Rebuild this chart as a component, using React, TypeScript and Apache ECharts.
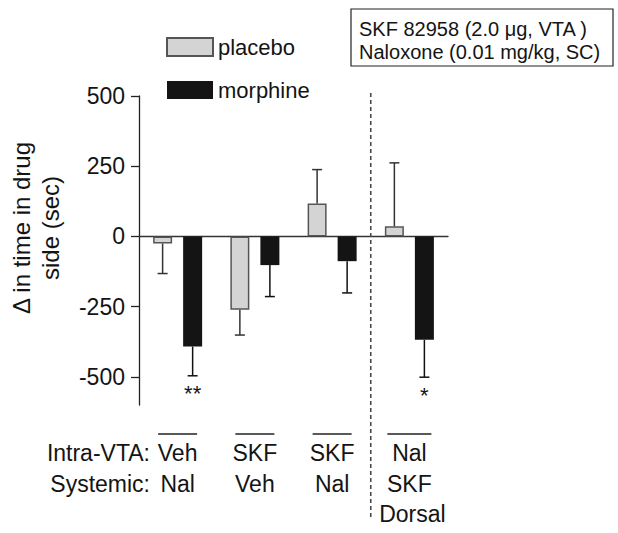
import React, { useEffect, useRef } from "react";
import * as echarts from "echarts";

const categories = ["Veh/Nal", "SKF/Veh", "SKF/Nal", "Nal/SKF/Dorsal"];
const groupLines = [["Veh", "Nal"], ["SKF", "Veh"], ["SKF", "Nal"], ["Nal", "SKF", "Dorsal"]];
const placeboMean = [-25, -261, 117, 36];
const placeboSem = [107, 90, 121, 226];
const morphineMean = [-392, -102, -88, -368];
const morphineSem = [104, 112, 113, 133];
const morphineSig = ["**", "", "", "*"];
const yTicks = [-500, -250, 0, 250, 500];
const rowLabels = ["Intra-VTA:", "Systemic:"];
const boxLines = ["SKF 82958 (2.0 μg, VTA )", "Naloxone (0.01 mg/kg, SC)"];
const yName = "Δ in time in drug\nside (sec)";

const Y_MIN = -600;
const Y_MAX = 500;
const BAR_WIDTH = 19;
const BAR_GAP = 0.58;
const FONT = '"Liberation Sans", Arial, Helvetica, sans-serif';
const INK = "#141414";

function errRender(sign: number, color: string, sig: string[] | null) {
  return (params: any, api: any) => {
    const i = api.value(0);
    const m = api.value(1);
    const s = api.value(2);
    const off = (BAR_WIDTH * (1 + BAR_GAP)) / 2;
    const base = api.coord([i, m]);
    const end = api.coord([i, m >= 0 ? m + s : m - s]);
    const x = base[0] + sign * off;
    const children: any[] = [
      { type: "line", shape: { x1: x, y1: base[1], x2: x, y2: end[1] }, style: { stroke: color, lineWidth: 1.5 } },
      { type: "line", shape: { x1: x - 5, y1: end[1], x2: x + 5, y2: end[1] }, style: { stroke: color, lineWidth: 1.5 } },
    ];
    if (sig && sig[i]) {
      children.push({
        type: "text",
        x: x,
        y: end[1] + 7,
        style: {
          text: sig[i], fill: INK, fontSize: 22, fontFamily: FONT,
          textAlign: "center", textVerticalAlign: "top", align: "center", verticalAlign: "top",
        },
      });
    }
    return { type: "group", children };
  };
}

function labelRender(params: any, api: any) {
  const k = api.value(0);
  const p = api.coord([k, Y_MIN]);
  const cx = p[0];
  const by = p[1];
  const band = api.size([1, 0])[0];
  const ow = k === 3 ? 44 : 39;
  const children: any[] = [
    { type: "line", shape: { x1: cx - ow / 2, y1: by + 29, x2: cx + ow / 2, y2: by + 29 }, style: { stroke: "#222", lineWidth: 1.3 } },
  ];
  groupLines[k].forEach((t, j) => {
    children.push({
      type: "text",
      x: cx + (k === 3 && j === 2 ? 3 : 0),
      y: by + 48 + j * 30.5,
      style: {
        text: t, fill: INK, fontSize: 23, fontFamily: FONT,
        textAlign: "center", textVerticalAlign: "middle", align: "center", verticalAlign: "middle",
      },
    });
  });
  if (k === 3) {
    const top = api.coord([k, Y_MAX])[1];
    const lx = cx - band / 2;
    children.push({
      type: "line",
      shape: { x1: lx, y1: top - 3, x2: lx, y2: by + 112 },
      style: { stroke: "#4a4a4a", lineWidth: 1.6, lineDash: [4, 3] },
    });
  }
  return { type: "group", children };
}

export default function App() {
  const ref = useRef<HTMLDivElement>(null);
  useEffect(() => {
    if (!ref.current) return;
    const chart = echarts.init(ref.current, null, { renderer: "svg" });
    chart.setOption({
      animation: false,
      backgroundColor: "#fff",
      textStyle: { fontFamily: FONT },
      grid: { left: 139, top: 96, right: 170, bottom: 128, containLabel: false },
      legend: {
        orient: "vertical",
        left: 166,
        top: 36,
        padding: 0,
        itemWidth: 46,
        itemHeight: 18,
        itemGap: 21,
        icon: "rect",
        data: ["placebo", "morphine"],
        textStyle: { fontSize: 22, color: INK, fontFamily: FONT, lineHeight: 18 },
      },
      xAxis: {
        type: "category",
        data: categories,
        axisLine: { onZero: true, lineStyle: { color: "#333", width: 1.3 } },
        axisTick: { show: false },
        axisLabel: { show: false },
        splitLine: { show: false },
      },
      yAxis: {
        type: "value",
        min: Y_MIN,
        max: Y_MAX,
        axisLine: { show: true, lineStyle: { color: "#222", width: 1.3 } },
        axisTick: { show: true, length: 8, customValues: yTicks, lineStyle: { color: "#222", width: 1.3 } },
        axisLabel: { show: true, customValues: yTicks, fontSize: 23, color: INK, margin: 14, fontFamily: FONT },
        splitLine: { show: false },
      },
      graphic: [
        {
          type: "text",
          x: 36,
          y: 228,
          rotation: Math.PI / 2,
          style: {
            text: yName, fill: INK, fontSize: 24, fontFamily: FONT, lineHeight: 29,
            textAlign: "center", textVerticalAlign: "middle", align: "center", verticalAlign: "middle",
          },
        },
        ...rowLabels.map((t, j) => ({
          type: "text",
          x: 150,
          y: 453 + j * 30.5,
          style: {
            text: t, fill: INK, fontSize: 23, fontFamily: FONT,
            textAlign: "right", textVerticalAlign: "middle", align: "right", verticalAlign: "middle",
          },
        })),
        {
          type: "rect",
          shape: { x: 351, y: 9, width: 262, height: 57 },
          style: { fill: "#fff", stroke: "#222", lineWidth: 1.2 },
        },
        ...boxLines.map((t, j) => ({
          type: "text",
          x: 359,
          y: 28.5 + j * 23.5,
          style: {
            text: t, fill: INK, fontSize: 20, fontFamily: FONT,
            textAlign: "left", textVerticalAlign: "middle", align: "left", verticalAlign: "middle",
          },
        })),
      ],
      series: [
        {
          name: "placebo",
          type: "bar",
          data: placeboMean,
          barWidth: BAR_WIDTH,
          barGap: BAR_GAP * 100 + "%",
          itemStyle: { color: "#d4d4d4", borderColor: "#555", borderWidth: 1.5 },
          z: 2,
        },
        {
          name: "morphine",
          type: "bar",
          data: morphineMean,
          barWidth: BAR_WIDTH,
          barGap: BAR_GAP * 100 + "%",
          itemStyle: { color: "#141414" },
          z: 2,
        },
        {
          type: "custom",
          name: "placebo-err",
          data: placeboMean.map((m, k) => [k, m, placeboSem[k]]),
          encode: { x: 0, y: 1 },
          renderItem: errRender(-1, "#333", null),
          z: 3,
          silent: true,
        },
        {
          type: "custom",
          name: "morphine-err",
          data: morphineMean.map((m, k) => [k, m, morphineSem[k]]),
          encode: { x: 0, y: 1 },
          renderItem: errRender(1, "#111", morphineSig),
          z: 3,
          silent: true,
        },
        {
          type: "custom",
          name: "labels",
          data: categories.map((_, k) => [k, Y_MIN]),
          encode: { x: 0, y: 1 },
          renderItem: labelRender,
          clip: false,
          z: 1,
          silent: true,
        },
      ],
    });
    return () => chart.dispose();
  }, []);
  return (
    <div
      ref={ref}
      style={{ position: "fixed", left: 0, top: 0, width: 618, height: 533, background: "#fff" }}
    />
  );
}
